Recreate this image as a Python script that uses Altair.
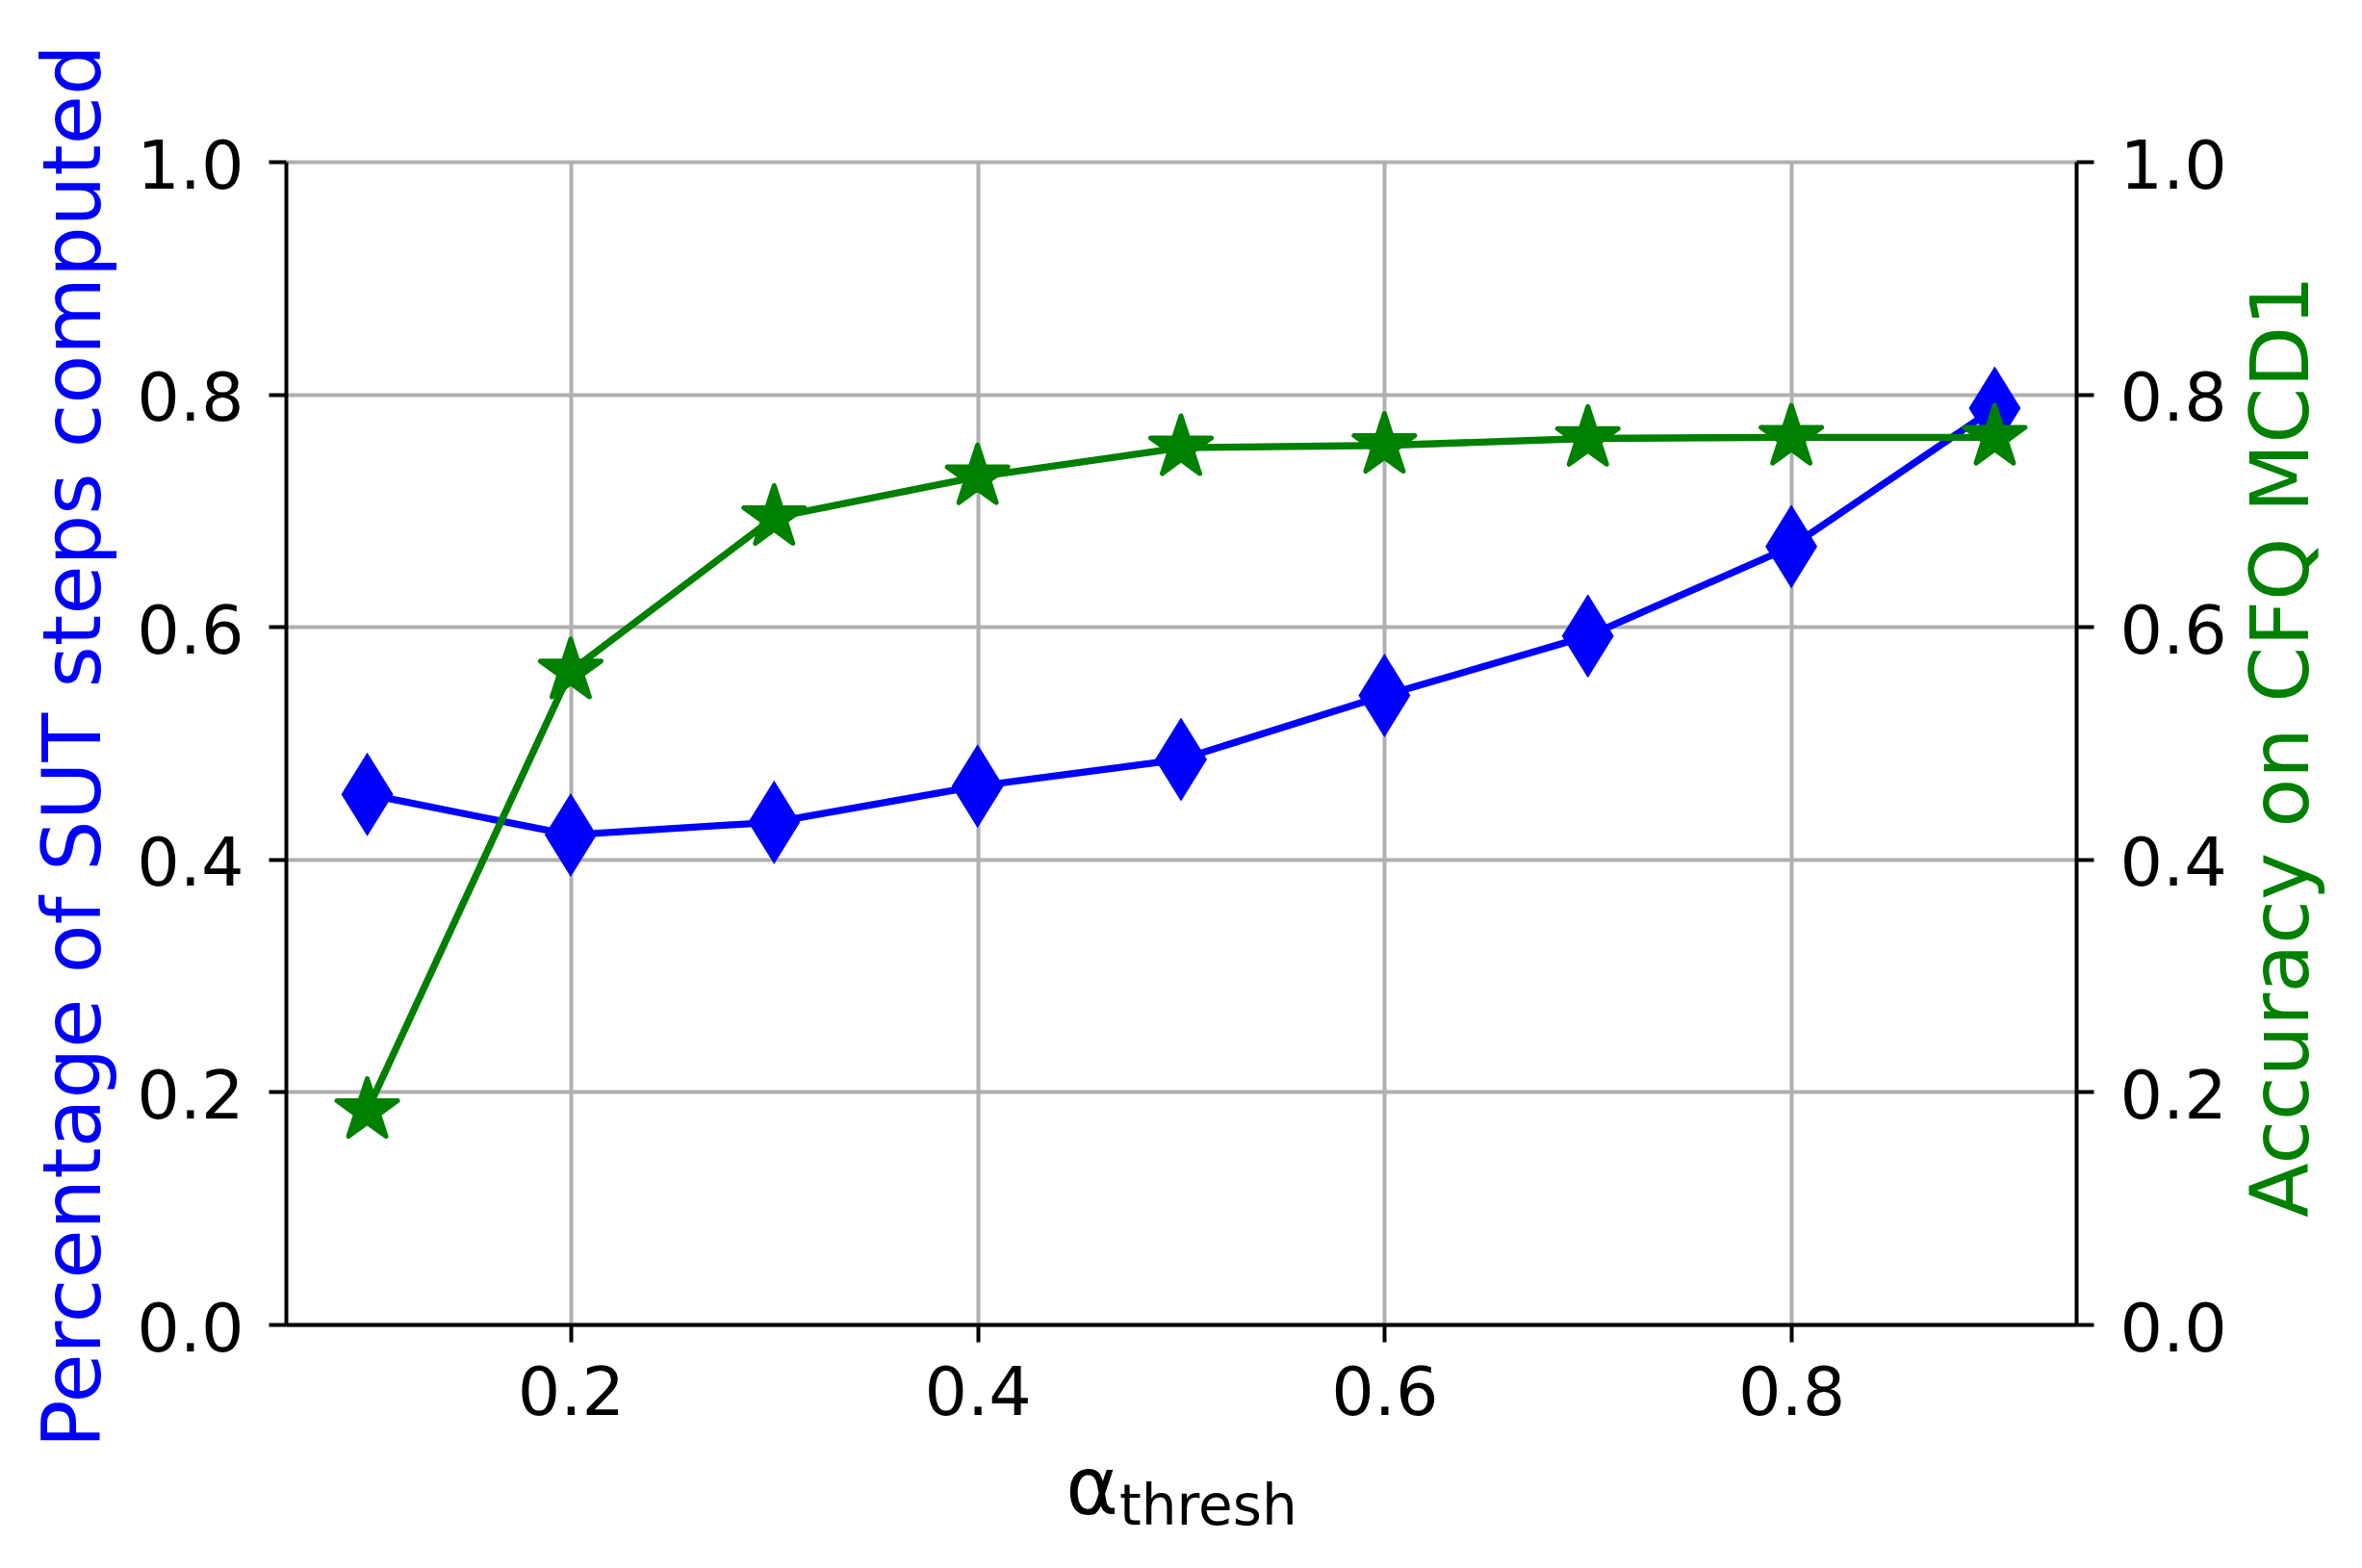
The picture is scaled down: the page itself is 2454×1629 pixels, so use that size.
import altair as alt
import pandas as pd

# ---- data ----
alpha_thresh = [0.1, 0.2, 0.3, 0.4, 0.5, 0.6, 0.7, 0.8, 0.9]
pct_sut_steps = [0.456, 0.421, 0.432, 0.463, 0.486, 0.541, 0.592, 0.669, 0.788]
accuracy_mcd1 = [0.184, 0.562, 0.694, 0.729, 0.754, 0.756, 0.762, 0.763, 0.763]

x_ticks = [0.2, 0.4, 0.6, 0.8]
y_ticks = [0.0, 0.2, 0.4, 0.6, 0.8, 1.0]

df = pd.DataFrame({"alpha": alpha_thresh, "pct": pct_sut_steps, "acc": accuracy_mcd1})

BLUE = "#0000ff"
GREEN = "#008000"
FONT = "DejaVu Sans"
TICK_FS = 70
TITLE_FS = 83

# marker shapes (matplotlib 'd' thin diamond and '*' star)
diamond = "M0,-1L0.62,0L0,1L-0.62,0Z"
star = ("M0,-1L0.2245,-0.309L0.9511,-0.309L0.3633,0.118L0.5878,0.809"
        "L0,0.382L-0.5878,0.809L-0.3633,0.118L-0.9511,-0.309L-0.2245,-0.309Z")

x_enc = alt.X(
    "alpha:Q",
    scale=alt.Scale(domain=[0.06, 0.94], nice=False, zero=False),
    axis=alt.Axis(
        values=x_ticks, format=".1f", grid=True, gridColor="#b0b0b0", gridWidth=4,
        labelFontSize=TICK_FS, labelFont=FONT, labelColor="black", labelPadding=20,
        tickSize=18, tickWidth=4, tickColor="black", domainColor="black", domainWidth=4,
        title="α", titleFont=FONT, titleFontSize=TITLE_FS, titleFontWeight="normal",
        titleColor="black", titleX=837, titleY=196, titleAlign="center",
        titleBaseline="alphabetic", titleAnchor="start",
    ),
)

left_axis = alt.Axis(
    orient="left", values=y_ticks, format=".1f", grid=True, gridColor="#b0b0b0", gridWidth=4,
    labelFontSize=TICK_FS, labelFont=FONT, labelColor="black", labelPadding=26, labelOffset=6,
    tickSize=18, tickWidth=4, tickColor="black", domainColor="black", domainWidth=4,
    title="Percentage of SUT steps computed", titleFont=FONT, titleFontSize=TITLE_FS,
    titleFontWeight="normal", titleColor=BLUE, titleAngle=270, titleX=-194, titleY=607,
    titleAlign="center", titleBaseline="alphabetic", titleAnchor="start",
)

right_axis = alt.Axis(
    orient="right", values=y_ticks, format=".1f", grid=False,
    labelFontSize=TICK_FS, labelFont=FONT, labelColor="black", labelPadding=27, labelOffset=6,
    tickSize=18, tickWidth=4, tickColor="black", domainColor="black", domainWidth=4,
    title="Accuracy on CFQ MCD1", titleFont=FONT, titleFontSize=TITLE_FS,
    titleFontWeight="normal", titleColor=GREEN, titleAngle=270, titleX=240, titleY=607,
    titleAlign="center", titleBaseline="alphabetic", titleAnchor="start",
)

yscale = alt.Scale(domain=[0, 1], nice=False, zero=False)

base = alt.Chart(df)

blue_line = base.mark_line(color=BLUE, strokeWidth=7.3).encode(
    x=x_enc, y=alt.Y("pct:Q", scale=yscale, axis=left_axis))
blue_pts = base.mark_point(shape=diamond, filled=True, size=7569, color=BLUE,
                           opacity=1, strokeWidth=0).encode(
    x="alpha:Q", y=alt.Y("pct:Q", scale=yscale))
left = alt.layer(blue_line, blue_pts)

green_line = base.mark_line(color=GREEN, strokeWidth=7.3).encode(
    x="alpha:Q", y=alt.Y("acc:Q", scale=yscale, axis=right_axis))
green_pts = base.mark_point(shape=star, filled=True, size=4400, fill=GREEN, stroke=GREEN,
                            opacity=1, strokeWidth=5, strokeJoin="round").encode(
    x="alpha:Q", y=alt.Y("acc:Q", scale=yscale))
right = alt.layer(green_line, green_pts)

sub_df = pd.DataFrame({"t": ["thresh"]})
subscript = alt.Chart(sub_df).mark_text(
    font=FONT, fontSize=58, color="black", align="left", baseline="alphabetic"
).encode(text="t:N", x=alt.value(866), y=alt.value(1416))

chart = alt.layer(left, right, subscript).resolve_scale(y="independent").properties(
    width=1860, height=1208,
    padding={"left": 289, "top": 160, "right": 270, "bottom": 240},
    autosize=alt.AutoSizeParams(type="none"),
).configure_view(stroke="black", strokeWidth=4).configure(background="white")

chart.save("out.html", embed_options={"renderer": "svg", "actions": False})
